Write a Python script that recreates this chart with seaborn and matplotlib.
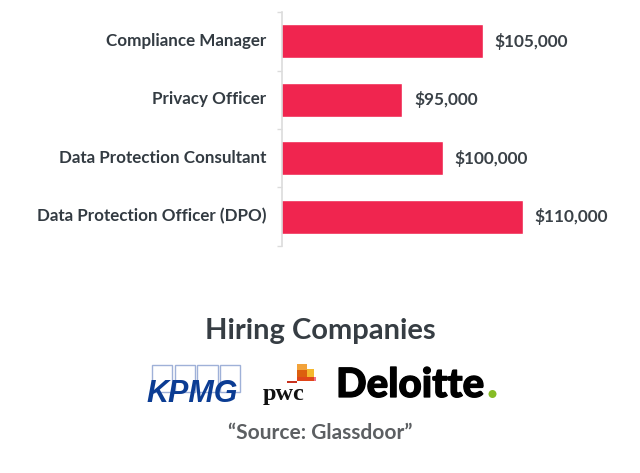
import pandas as pd
import seaborn as sns
import matplotlib.pyplot as plt
import matplotlib.patheffects as pe
from matplotlib.patches import Rectangle, Ellipse
from matplotlib.transforms import ScaledTranslation

roles = ['Compliance Manager', 'Privacy Officer', 'Data Protection Consultant', 'Data Protection Officer (DPO)']
salaries = [105000, 95000, 100000, 110000]
value_labels = ['$105,000', '$95,000', '$100,000', '$110,000']

W, H = 640, 473
sns.set_theme(style='white')
plt.rcParams['font.family'] = ['Lato', 'DejaVu Sans']

fig = plt.figure(figsize=(W / 100, H / 100), dpi=100)
ax = fig.add_axes([282 / W, 1 - 246 / H, 358 / W, 234 / H])

data = pd.DataFrame({'role': roles, 'salary': salaries})
sns.barplot(data=data, y='role', x='salary', color='#f0254f', saturation=1, width=0.573, ax=ax)
ax.set_xlim(80000, 124580)
ax.set_ylim(3.5, -0.5)
ax.set_xlabel('')
ax.set_ylabel('')
ax.set_xticks([])

# axis line with ticks between the categories
for s in ['top', 'right', 'bottom']:
    ax.spines[s].set_visible(False)
ax.spines['left'].set_color('#dcdcdc')
ax.spines['left'].set_linewidth(1.2)
ax.set_yticks([-0.5, 0.5, 1.5, 2.5, 3.5], minor=True)
ax.tick_params(axis='y', which='minor', length=3.6, width=1, color='#dcdcdc', left=True)
ax.tick_params(axis='y', which='major', length=0, pad=11.5, labelsize=12.25, labelcolor='#333b42')
shift_up = ScaledTranslation(0, 2 / 100, fig.dpi_scale_trans)
for lab in ax.get_yticklabels():
    lab.set_fontweight('bold')
    lab.set_transform(lab.get_transform() + shift_up)

ax.bar_label(ax.containers[0], labels=value_labels, padding=8.5, fontsize=12.4,
             fontweight='bold', color='#3a4147')


def px(x, y):
    return x / W, 1 - y / H


def label(x, y, s, **kw):
    return fig.text(*px(x, y), s, **kw)


def box(x0, y0, x1, y1, **kw):
    fig.add_artist(Rectangle(px(x0, y1), (x1 - x0) / W, (y1 - y0) / H, transform=fig.transFigure, **kw))


label(320, 331, 'Hiring Companies', ha='center', va='center', fontsize=21, fontweight='bold', color='#363d43')
label(320, 433, '\u201cSource: Glassdoor\u201d', ha='center', va='center', fontsize=15, fontweight='bold', color='#5c5f62')

# KPMG logo
for x0, x1 in [(152, 172), (175, 195), (197, 218), (220, 240)]:
    box(x0, 365, x1, 392, fill=False, edgecolor='#9fb1d8', linewidth=1)
label(146, 402, 'KPMG', ha='left', va='baseline', fontsize=22, fontweight='bold', style='italic',
      color='#0b3c93', family=['Liberation Sans'])

# PwC logo
pwc_blocks = [(297, 364, 307, 370, '#f2a23a'), (297, 370, 307, 378, '#dc5f0e'),
              (307, 369, 314, 377, '#f5b82e'), (297, 377, 314, 381, '#e0461a'),
              (314, 377, 316, 381, '#ee6f8c'), (287, 381, 297, 383, '#c8321e')]
for x0, y0, x1, y1, c in pwc_blocks:
    box(x0, y0, x1, y1, color=c, linewidth=0)
label(263, 400, 'pwc', ha='left', va='baseline', fontsize=17.5, fontweight='bold', color='#111111',
      family=['Liberation Serif'])

# Deloitte logo
deloitte = label(336, 397, 'Deloitte', ha='left', va='baseline', fontsize=29, fontweight='black', color='#000000',
                 family=['Lato'])
deloitte.set_path_effects([pe.withStroke(linewidth=0.9, foreground='#000000')])
fig.add_artist(Ellipse(px(492.5, 394), 8 / W, 8 / H, transform=fig.transFigure, color='#86bc25', linewidth=0))

fig.savefig('out.png', dpi=100)
